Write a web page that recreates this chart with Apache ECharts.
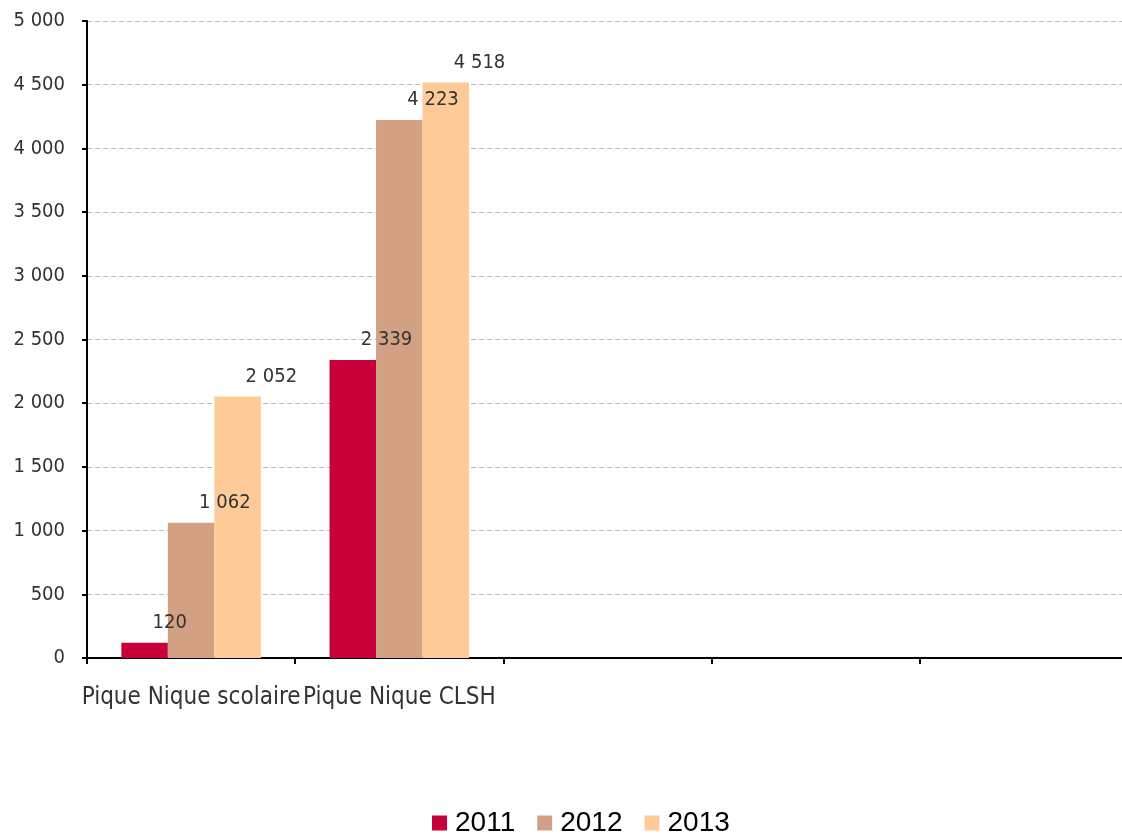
<!DOCTYPE html>
<html><head><meta charset="utf-8">
<script src="https://cdn.jsdelivr.net/npm/echarts@6/dist/echarts.min.js"></script>
<style>html,body{margin:0;padding:0;background:#fff;overflow:hidden}#c{width:1128px;height:837px}</style>
</head><body><div id="c"></div>
<script>
const categories = ['Pique Nique scolaire', 'Pique Nique CLSH', '', '', ''];
const years = ['2011', '2012', '2013'];
const v2011 = [120, 2339, null, null, null];
const v2012 = [1062, 4223, null, null, null];
const v2013 = [2052, 4518, null, null, null];
const yTicks = [0, 500, 1000, 1500, 2000, 2500, 3000, 3500, 4000, 4500, 5000];
const colors = ['#C8003A', '#D2A083', '#FECB98'];

const fmt = v => String(v).replace(/\B(?=(\d{3})+(?!\d))/g, ' ');
const font = '"DejaVu Sans Condensed", "DejaVu Sans", sans-serif';
const chart = echarts.init(document.getElementById('c'), null, {renderer: 'canvas'});
const seriesData = [v2011, v2012, v2013];
chart.setOption({
  animation: false,
  color: colors,
  grid: {left: 87, top: 21, right: 0, bottom: 179, containLabel: false},
  legend: {
    bottom: -5, left: 427, itemWidth: 15, itemHeight: 15, itemGap: 22,
    icon: 'rect',
    textStyle: {fontFamily: 'Liberation Sans', fontSize: 28, color: '#000', padding: [0, 0, 0, 3]},
    data: years
  },
  xAxis: {
    type: 'category', data: categories,
    axisLine: {lineStyle: {color: '#000', width: 2}},
    axisTick: {show: true, length: 6, lineStyle: {color: '#000', width: 2}},
    axisLabel: {fontFamily: font, fontSize: 24, color: '#333', margin: 28, interval: 0}
  },
  yAxis: {
    type: 'value', min: yTicks[0], max: yTicks[yTicks.length - 1], interval: 500,
    axisLine: {show: true, lineStyle: {color: '#000', width: 2}},
    axisTick: {show: true, length: 5, lineStyle: {color: '#000', width: 2}},
    axisLabel: {fontFamily: font, fontSize: 20, color: '#333', margin: 22, formatter: v => fmt(v)},
    splitLine: {lineStyle: {color: '#bbb', type: [5, 3], width: 1}}
  },
  series: years.map((y, i) => ({
    name: y, type: 'bar', data: seriesData[i],
    barGap: '0%', barCategoryGap: '33%',
    itemStyle: {color: colors[i]},
    label: {
      show: true, position: 'top', align: 'left', distance: 10, offset: [8, 0],
      fontFamily: font, fontSize: 20, color: '#333',
      formatter: p => p.value == null ? '' : fmt(p.value)
    }
  }))
});
</script></body></html>
